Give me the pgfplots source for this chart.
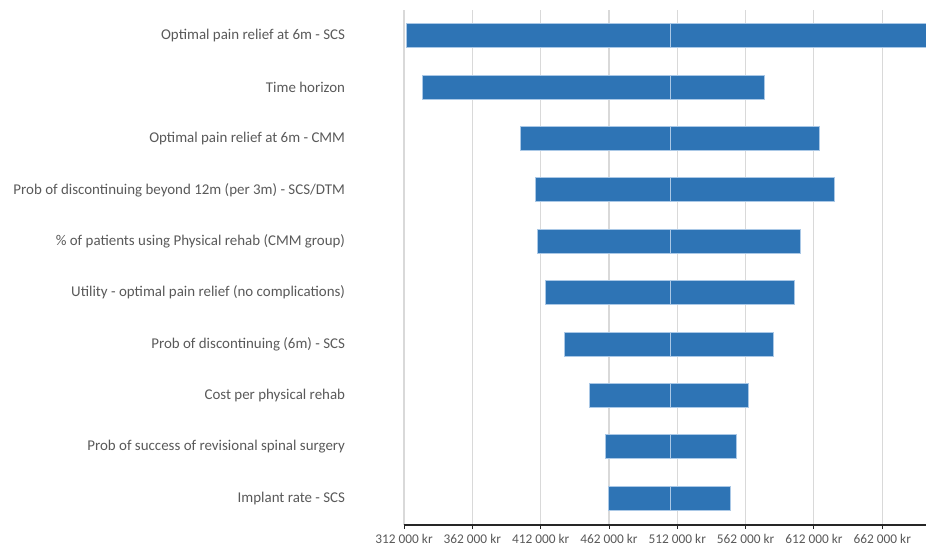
\documentclass[border=0pt]{standalone}
\usepackage{pgfplots}
\usepackage{pgfplotstable}
\pgfplotsset{compat=1.18}
\usepackage{fontspec}
\setmainfont{Carlito}
\definecolor{barblue}{RGB}{46,116,181}
\definecolor{barline}{RGB}{170,200,230}
\definecolor{labgray}{RGB}{89,89,89}
\definecolor{gridgray}{RGB}{217,217,217}
\pgfplotstableread{
y low high
1 461900 551200
2 459700 555600
3 447700 564100
4 429400 582400
5 415400 597500
6 409900 601900
7 407900 626800
8 396900 615800
9 325700 575800
10 314000 712000
}\sens
\begin{document}
\begin{tikzpicture}
\begin{axis}[
  scale only axis,
  width=391.5pt, height=386.25pt,
  xbar stacked, bar width=18pt,
  xmin=312000, xmax=694000,
  ymin=0.48, ymax=10.5,
  scaled x ticks=false,
  axis x line*=bottom, axis y line*=left,
  y axis line style={draw=none},
  x axis line style={-, draw=black!85, line width=0.9pt},
  tick align=outside, major tick length=3pt,
  xtick style={draw=black!85, line width=0.7pt},
  ytick style={draw=none},
  xmajorgrids, major grid style={gridgray, line width=0.8pt},
  xtick={312000,362000,412000,462000,512000,562000,612000,662000},
  xticklabels={312 000 kr,362 000 kr,412 000 kr,462 000 kr,512 000 kr,562 000 kr,612 000 kr,662 000 kr},
  xticklabel style={font=\fontsize{10}{12}\selectfont, text=labgray, yshift=-0.5pt},
  ytick={1,...,10},
  yticklabels={Implant rate - SCS,Prob of success of revisional spinal surgery,Cost per physical rehab,Prob of discontinuing (6m) - SCS,Utility - optimal pain relief (no complications),\% of patients using Physical rehab (CMM group),Prob of discontinuing beyond 12m (per 3m) - SCS/DTM,Optimal pain relief at 6m - CMM,Time horizon,Optimal pain relief at 6m - SCS},
  yticklabel style={font=\fontsize{11.2}{13}\selectfont, text=labgray, anchor=east, inner sep=0pt, xshift=-41pt},
  clip=true,
]
\addplot[draw=none, fill=none] table[x=low, y=y] {\sens};
\addplot[fill=barblue, draw=barline, line width=0.6pt] table[x expr=507000-\thisrow{low}, y=y] {\sens};
\addplot[fill=barblue, draw=barline, line width=0.6pt] table[x expr=\thisrow{high}-507000, y=y] {\sens};
\end{axis}
\pgfresetboundingbox
\path ([xshift=-303pt, yshift=-17.25pt]current axis.south west) rectangle ([yshift=7.5pt]current axis.north east);
\end{tikzpicture}
\end{document}
